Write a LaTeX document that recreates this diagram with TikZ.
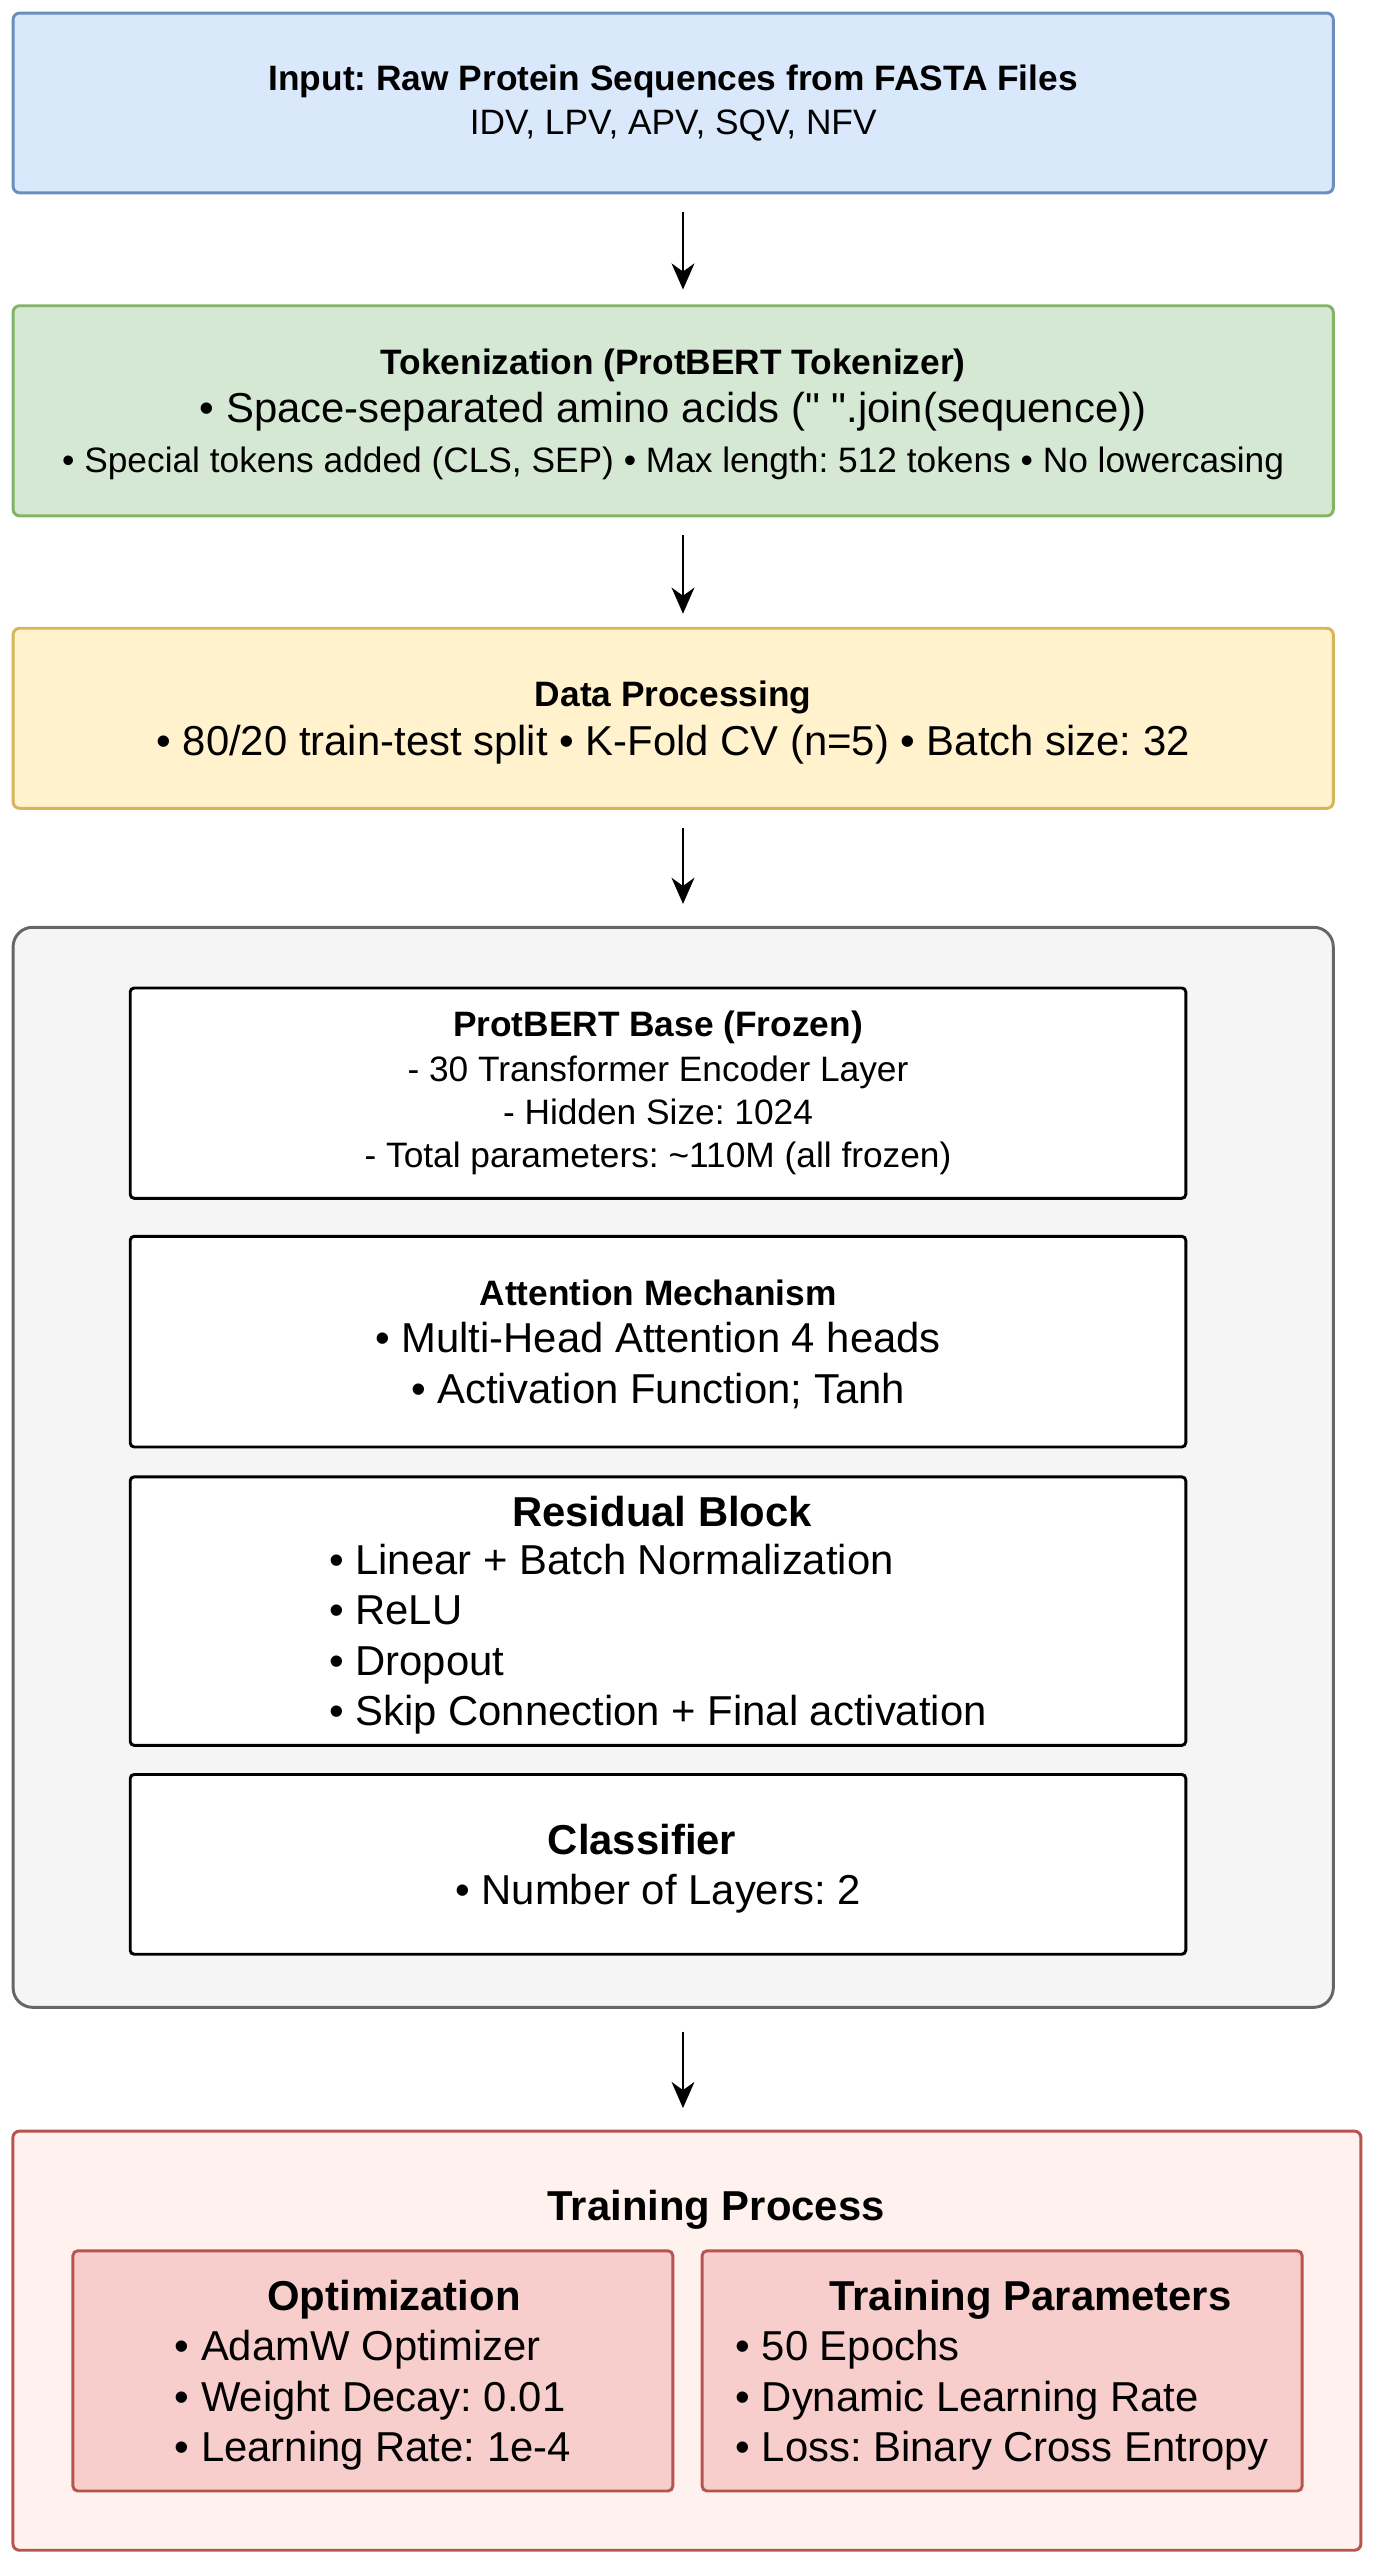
\documentclass[tikz,border=0pt]{standalone}
\usepackage{fontspec}
\setmainfont{Liberation Sans}
\usetikzlibrary{arrows.meta}
\frenchspacing

\definecolor{inBlue}{HTML}{DAE8FC}
\definecolor{inBlueLine}{HTML}{6C8EBF}
\definecolor{tokGreen}{HTML}{D5E8D4}
\definecolor{tokGreenLine}{HTML}{82B366}
\definecolor{dataYellow}{HTML}{FFF2CC}
\definecolor{dataYellowLine}{HTML}{D6B656}
\definecolor{modelGray}{HTML}{F5F5F5}
\definecolor{modelGrayLine}{HTML}{666666}
\definecolor{trainPink}{HTML}{FEF1EE}
\definecolor{trainRed}{HTML}{F8CECC}
\definecolor{trainRedLine}{HTML}{B85450}

\newcommand\basefont{\fontsize{10.8}{13.2}\selectfont}
\newcommand\bigfont{\fontsize{12.8}{15.4}\selectfont}

\begin{document}
\begin{tikzpicture}[x=0.5pt, y=-0.5pt,
    stage/.style={shape=rectangle, rounded corners=2pt, line width=0.9pt, minimum width=404pt, inner sep=0pt, align=center},
    layer/.style={shape=rectangle, draw=black, fill=white, rounded corners=1.2pt, line width=0.9pt, minimum width=323pt, inner sep=0pt},
    part/.style={shape=rectangle, draw=trainRedLine, fill=trainRed, rounded corners=1.5pt, line width=0.9pt, minimum width=183.6pt, minimum height=73.5pt, inner sep=0pt, align=left, font=\bigfont, text depth=0pt},
    flow/.style={-{Stealth[length=8pt, width=7pt, inset=2.5pt]}, line width=0.6pt},
  ]
    \useasboundingbox (0,0) rectangle (842.7,1569.8);

    \node[stage, draw=inBlueLine, fill=inBlue, minimum height=55pt, font=\basefont] (inp) at (412,63)
      {{\bfseries Input: Raw Protein Sequences from FASTA Files}\\[0.5pt] IDV, LPV, APV, SQV, NFV};

    \node[stage, draw=tokGreenLine, fill=tokGreen, minimum height=64.3pt, font=\bigfont, text depth=0pt] (tok) at (412,251.4)
      {{\basefont\bfseries Tokenization (ProtBERT Tokenizer)}\\[-0.7pt]
       • Space-separated amino acids (\textquotedbl\ \textquotedbl.join(sequence))\\
       {\basefont • Special tokens added (CLS, SEP) • Max length: 512 tokens • No lowercasing}};

    \node[stage, draw=dataYellowLine, fill=dataYellow, minimum height=55.1pt, font=\bigfont, text depth=0pt] (dat) at (412,439.6)
      {{\basefont\bfseries Data Processing}\\[-0.5pt]
       • 80/20 train-test split • K-Fold CV (n=5) • Batch size: 32};

    % model
    \node[stage, draw=modelGrayLine, fill=modelGray, rounded corners=6pt, minimum height=330.5pt] (mdl) at (412,898) {};

    \node[layer, minimum height=64.35pt, align=center, font=\basefont] (bert) at (402.7,669)
      {{\bfseries ProtBERT Base (Frozen)}\\[0.6pt]
       - 30 Transformer Encoder Layer\\
       - Hidden Size: 1024\\
       - Total parameters: \textasciitilde110M (all frozen)};

    \node[layer, minimum height=64.45pt, align=center, font=\bigfont, text depth=0pt] (att) at (402.7,821.1)
      {{\basefont\bfseries Attention Mechanism}\\[-0.9pt]
       • Multi-Head Attention 4 heads\\
       • Activation Function; Tanh};

    \node[layer, minimum height=82.15pt, align=left, font=\bigfont, text depth=0pt] (res) at (402.7,986)
      {\hspace*{56pt}\textbf{Residual Block}\\[-0.8pt]
       • Linear + Batch Normalization\\
       • ReLU\\
       • Dropout\\
       • Skip Connection + Final activation};

    \node[layer, minimum height=55pt, align=left, font=\bigfont, text depth=-6pt] (cls) at (402.7,1141)
      {\hspace*{28.3pt}\textbf{Classifier}\\
       • Number of Layers: 2};

    % training
    \node[stage, draw=trainRedLine, fill=trainPink, minimum width=412.5pt, minimum height=128.25pt] (train) at (420.4,1432.5) {};
    \node[anchor=base, font=\bigfont\bfseries] (trtitle) at (438.3,1359) {Training Process};

    \node[part] (opt) at (228.2,1451)
      {\hspace*{28.3pt}\textbf{Optimization}\\
       • AdamW Optimizer\\
       • Weight Decay: 0.01\\
       • Learning Rate: 1e-4};

    \node[part] (par) at (613.3,1451)
      {\hspace*{28.7pt}\textbf{Training Parameters}\\
       • 50 Epochs\\
       • Dynamic Learning Rate\\
       • Loss: Binary Cross Entropy};

    \draw[flow, shorten <=5.3pt, shorten >=4.5pt] ([xshift=3pt]inp.south) -- ([xshift=3pt]inp.south |- tok.north);
    \draw[flow, shorten <=5.5pt, shorten >=4pt] ([xshift=3pt]tok.south) -- ([xshift=3pt]tok.south |- dat.north);
    \draw[flow, shorten <=5.7pt, shorten >=6.7pt] ([xshift=3pt]dat.south) -- ([xshift=3pt]dat.south |- mdl.north);
    \draw[flow, shorten <=7pt, shorten >=6.6pt] ([xshift=3pt]mdl.south) -- ([xshift=3pt]mdl.south |- train.north);

  \end{tikzpicture}
\end{document}
